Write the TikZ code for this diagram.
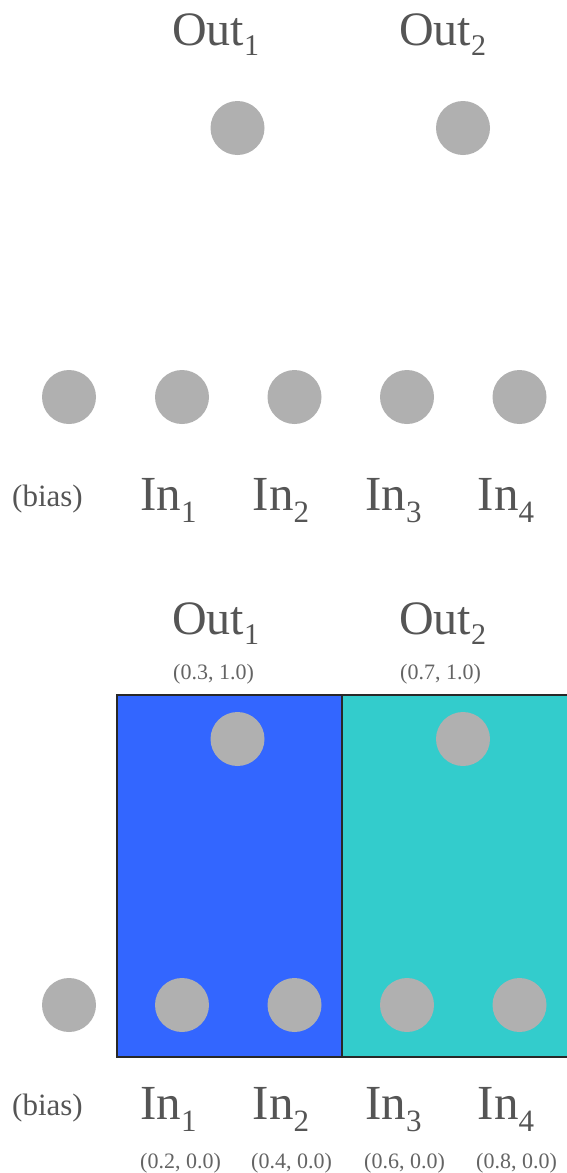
\documentclass[tikz,border=0pt]{standalone}
\usepackage{fontspec}
\setmainfont{Liberation Serif}
\definecolor{nodegray}{RGB}{176,176,176}
\definecolor{txt}{RGB}{85,85,85}
\definecolor{coordtxt}{RGB}{100,100,100}
\definecolor{regblue}{RGB}{51,102,255}
\definecolor{regteal}{RGB}{51,204,204}
\definecolor{edge}{RGB}{40,40,40}
\newcommand\outlab[1]{Out\raisebox{-10pt}{\fontsize{30}{30}\selectfont #1}}
\newcommand\inlab[1]{In\raisebox{-12pt}{\fontsize{31}{31}\selectfont #1}}
\begin{document}
\begin{tikzpicture}[x=1pt,y=-1pt,
  neuron/.style={circle,fill=nodegray,draw=none,minimum size=54pt,inner sep=0pt},
  outtext/.style={anchor=base west,inner sep=0pt,text=txt,font=\fontsize{48}{48}\selectfont},
  intext/.style={anchor=base west,inner sep=0pt,text=txt,font=\fontsize{49}{49}\selectfont},
  biastext/.style={anchor=base west,inner sep=0pt,text=txt,font=\fontsize{31}{31}\selectfont},
  coordlab/.style={anchor=base west,inner sep=0pt,text=coordtxt,font=\fontsize{22}{22}\selectfont},
  region/.style={draw=edge,line width=2pt}]
\useasboundingbox (0,0) rectangle (566,1173);
\fill[white] (0,0) rectangle (566,1173);
% ---------- top diagram ----------
\node[outtext] (o1l) at (172,45) {\outlab{1}};
\node[outtext] (o2l) at (399,45) {\outlab{2}};
\node[neuron] (o1) at (237.5,128) {};
\node[neuron] (o2) at (463,128) {};
\node[neuron] (b) at (69,397) {};
\node[neuron] (i1) at (182,397) {};
\node[neuron] (i2) at (294.5,397) {};
\node[neuron] (i3) at (407,397) {};
\node[neuron] (i4) at (519.5,397) {};
\node[biastext] (bl) at (12,506) {(bias)};
\node[intext] (i1l) at (140,510) {\inlab{1}};
\node[intext] (i2l) at (252.5,510) {\inlab{2}};
\node[intext] (i3l) at (365,510) {\inlab{3}};
\node[intext] (i4l) at (477.5,510) {\inlab{4}};
% ---------- bottom diagram ----------
\node[outtext] (p1l) at (172,634) {\outlab{1}};
\node[outtext] (p2l) at (399,634) {\outlab{2}};
\node[coordlab] (p1c) at (173,679) {(0.3, 1.0)};
\node[coordlab] (p2c) at (400,679) {(0.7, 1.0)};
\path[fill=regblue] (117,695) rectangle (342,1057);
\path[fill=regteal] (342,695) rectangle (580,1057);
\draw[region] (117,695) rectangle (342,1057);
\draw[region] (342,695) rectangle (580,1057);
\node[neuron] (p1) at (237.5,739) {};
\node[neuron] (p2) at (463,739) {};
\node[neuron] (c) at (69,1005) {};
\node[neuron] (j1) at (182,1005) {};
\node[neuron] (j2) at (294.5,1005) {};
\node[neuron] (j3) at (407,1005) {};
\node[neuron] (j4) at (519.5,1005) {};
\node[biastext] (cl) at (12,1115) {(bias)};
\node[intext] (j1l) at (140,1119) {\inlab{1}};
\node[intext] (j2l) at (252.5,1119) {\inlab{2}};
\node[intext] (j3l) at (365,1119) {\inlab{3}};
\node[intext] (j4l) at (477.5,1119) {\inlab{4}};
\node[coordlab] (j1c) at (140,1168) {(0.2, 0.0)};
\node[coordlab] (j2c) at (251,1168) {(0.4, 0.0)};
\node[coordlab] (j3c) at (364,1168) {(0.6, 0.0)};
\node[coordlab] (j4c) at (476,1168) {(0.8, 0.0)};
\end{tikzpicture}
\end{document}
